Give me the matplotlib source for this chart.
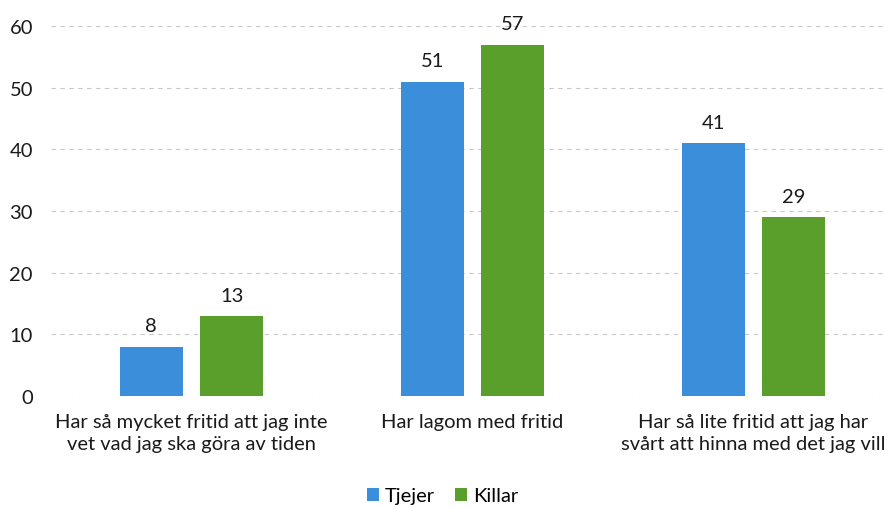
import numpy as np
import matplotlib.pyplot as plt

categories = ["Har så mycket fritid att jag inte\nvet vad jag ska göra av tiden",
              "Har lagom med fritid",
              "Har så lite fritid att jag har\nsvårt att hinna med det jag vill"]
tjejer = [8, 51, 41]
killar = [13, 57, 29]
yticks = [0, 10, 20, 30, 40, 50, 60]

plt.rcParams['font.family'] = ['Lato', 'DejaVu Sans']

fig = plt.figure(figsize=(8.85, 5.10), dpi=100)
ax = fig.add_axes([51/885, 1 - 397/510, 834/885, 370/510])

x = np.arange(len(categories))
w = 0.225
off = 0.143
b1 = ax.bar(x - off, tjejer, w, color='#3b8fda', label='Tjejer', zorder=3)
b2 = ax.bar(x + off, killar, w, color='#5a9e2c', label='Killar', zorder=3)

for bars in (b1, b2):
    for r in bars:
        ax.text(r.get_x() + r.get_width()/2, r.get_height() + 2.0, f"{r.get_height():g}",
                ha='center', va='bottom', fontsize=14.5, color='#1a1a1a')

ax.set_xlim(-0.5, 2.5 - 9/280)
ax.set_ylim(0, 60)
ax.set_yticks(yticks)
ax.set_xticks(x)
ax.set_xticklabels(categories, fontsize=14.5, color='#1a1a1a', linespacing=1.35)
ax.tick_params(axis='y', labelsize=14.5, colors='#1a1a1a', length=0, pad=13)
ax.tick_params(axis='x', length=0, pad=12)
ax.grid(axis='y', linestyle=(0, (4, 4)), color='#c8c8c8', linewidth=0.8, zorder=0)
for s in ax.spines.values():
    s.set_visible(False)

fig.legend(handles=[b1, b2], loc='center', bbox_to_anchor=(0.5, 1 - 497/510), ncol=2,
           frameon=False, fontsize=14.5, handlelength=0.6, handleheight=0.6,
           handletextpad=0.3, columnspacing=1.0)

fig.savefig('out.png', dpi=100)
